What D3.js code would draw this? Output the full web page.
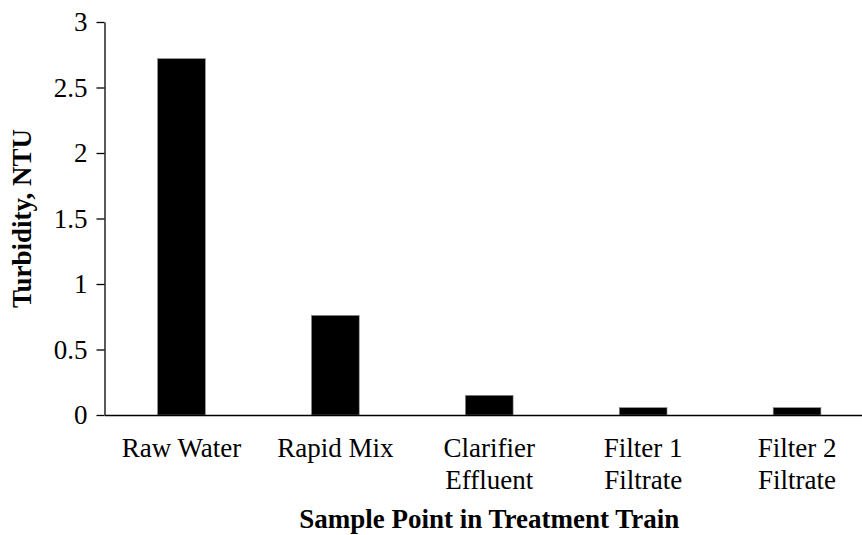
<!DOCTYPE html>
<html>
<head>
<meta charset="utf-8">
<script src="https://cdn.jsdelivr.net/npm/d3@7"></script>
<style>
  html, body { margin: 0; padding: 0; background: #fff; }
  svg text { font-family: 'Liberation Serif', 'Times New Roman', Times, 'DejaVu Serif', serif !important; }
</style>
</head>
<body>
<svg id="chart" width="862" height="535" style="display:block"></svg>
<script>
const categories = [["Raw Water"], ["Rapid Mix"], ["Clarifier", "Effluent"], ["Filter 1", "Filtrate"], ["Filter 2", "Filtrate"]];
const turbidity = [2.72, 0.76, 0.15, 0.056, 0.056];
const yTicks = [0, 0.5, 1, 1.5, 2, 2.5, 3];
const yTickLabels = ["0", "0.5", "1", "1.5", "2", "2.5", "3"];
const xTitle = "Sample Point in Treatment Train";
const yTitle = "Turbidity, NTU";

(function () {
const FONT = "'Liberation Serif', 'Times New Roman', Times, serif";
const svg = d3.select("#chart");
const mLeft = 104.5, mRight = 874, mTop = 22, mBottom = 415;

const keys = categories.map(c => c.join(" "));
const x = d3.scaleBand().domain(keys).range([mLeft, mRight]).paddingInner(0.69).paddingOuter(0.345);
const y = d3.scaleLinear().domain([0, 3]).range([mBottom, mTop]);

// bars
svg.append("g").selectAll("rect").data(turbidity).join("rect")
  .attr("x", (d, i) => x(keys[i]))
  .attr("width", x.bandwidth())
  .attr("y", d => y(d))
  .attr("height", d => y(0) - y(d))
  .attr("fill", "#000")
  .attr("stroke", "#8a8a8a")
  .attr("stroke-width", 0.6);

// y axis
const yAxis = d3.axisLeft(y).tickValues(yTicks).tickFormat((d, i) => yTickLabels[i]).tickSize(8).tickPadding(9).tickSizeOuter(0);
const gy = svg.append("g").attr("transform", `translate(${mLeft},0)`).call(yAxis);
gy.attr("font-family", FONT).attr("font-size", 27);
gy.selectAll("text").attr("fill", "#000");
gy.selectAll("line, path").attr("stroke", "#000").attr("stroke-width", 1.3);

// x axis
const xAxis = d3.axisBottom(x).tickSize(0).tickSizeOuter(0).tickFormat("");
const gx = svg.append("g").attr("transform", `translate(0,${mBottom})`).call(xAxis);
gx.selectAll("path").attr("stroke", "#000").attr("stroke-width", 1.3);

// x labels (multi-line)
const lbl = svg.append("g").attr("font-family", FONT).selectAll("text").data(categories).join("text")
  .attr("text-anchor", "middle")
  .attr("font-size", 27)
  .attr("fill", "#000")
  .attr("transform", (d, i) => `translate(${x(keys[i]) + x.bandwidth() / 2},${mBottom + 42})`);
lbl.selectAll("tspan").data(d => d).join("tspan")
  .attr("x", 0)
  .attr("y", (d, i) => i * 32)
  .text(d => d);

// axis titles
svg.append("text")
  .attr("x", (mLeft + mRight) / 2)
  .attr("y", 528)
  .attr("text-anchor", "middle")
  .attr("font-family", FONT)
  .attr("font-size", 27)
  .attr("font-weight", "bold")
  .attr("fill", "#000")
  .text(xTitle);

svg.append("text")
  .attr("transform", `translate(31,${(mTop + mBottom) / 2}) rotate(-90)`)
  .attr("text-anchor", "middle")
  .attr("font-family", FONT)
  .attr("font-size", 27)
  .attr("font-weight", "bold")
  .attr("fill", "#000")
  .text(yTitle);
})();
</script>
</body>
</html>
